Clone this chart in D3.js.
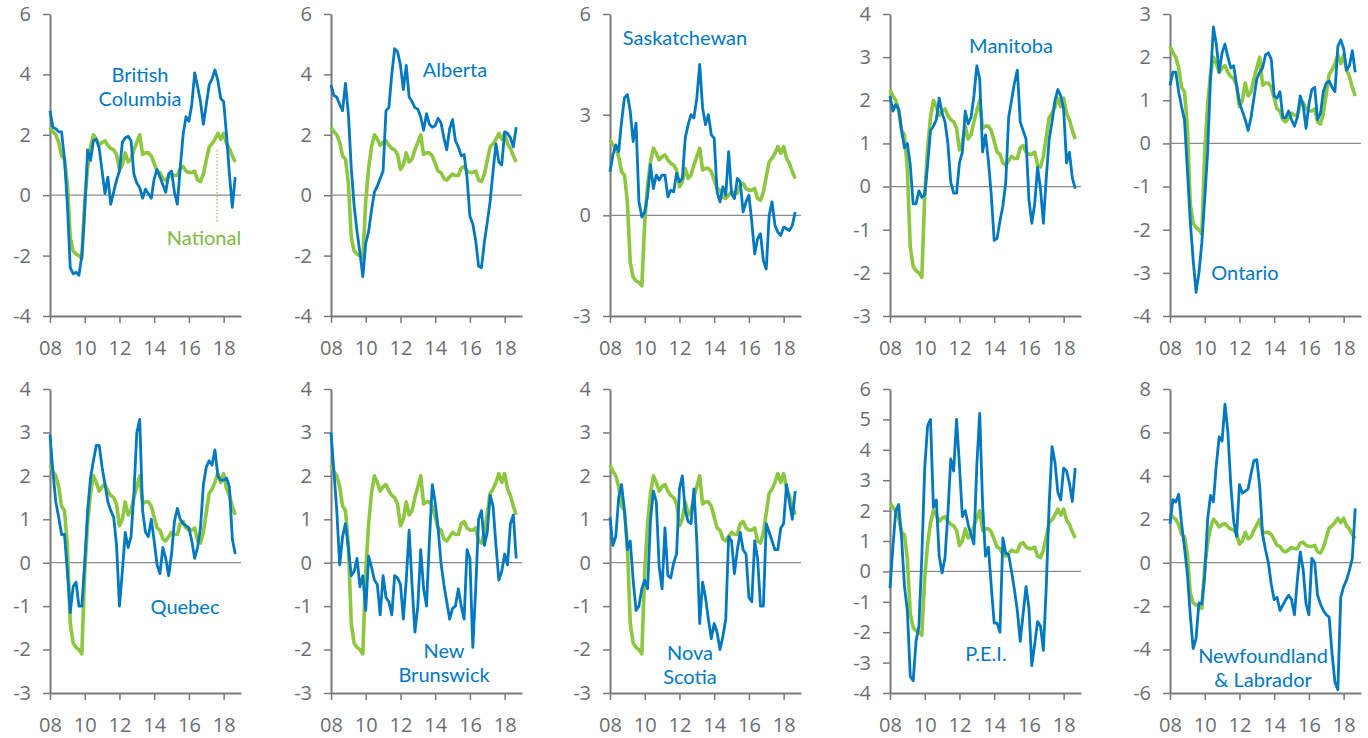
<!DOCTYPE html>
<html>
<head>
<meta charset="utf-8">
<script src="https://cdn.jsdelivr.net/npm/d3@7"></script>
<style>
  body { margin: 0; background: #fff; }
  text { font-family: "Open Sans", sans-serif; }
  .name { font-family: Lato, "Open Sans", sans-serif; }
</style>
</head>
<body>
<svg id="chart" width="1368" height="738"></svg>
<script>
// ---- data: employment growth, y/y %, read every two months, Jan 2008 .. Sep 2018 ----
var xTicks = [2008, 2010, 2012, 2014, 2016, 2018];
var xTickLabels = ["08", "10", "12", "14", "16", "18"];

// one entry every two months from Jan 2008
var months = d3.range(65).map(function(k) { return 2008 + k / 6; });

var national = [
  2.25, 2.1, 2.0, 1.75, 1.3, 1.2,
  0.4, -1.4, -1.85, -1.95, -2.0, -2.1,
  -0.2, 0.9, 1.6, 2.0, 1.85, 1.65,
  1.75, 1.8, 1.65, 1.55, 1.5, 1.35,
  0.85, 1.0, 1.4, 1.1, 1.2, 1.5,
  1.75, 2.0, 1.35, 1.4, 1.4, 1.3,
  1.05, 0.8, 0.75, 0.55, 0.5, 0.6,
  0.7, 0.65, 0.65, 0.9, 0.95, 0.8,
  0.75, 0.75, 0.8, 0.5, 0.45, 0.7,
  1.15, 1.6, 1.7, 1.85, 2.05, 1.85,
  2.05, 1.7, 1.55, 1.3, 1.1
];
var britishColumbia = [
  2.8, 2.25, 2.2, 2.1, 2.1, 1.2,
  -0.3, -2.4, -2.6, -2.55, -2.65, -2.0,
  -0.5, 1.5, 1.15, 1.8, 1.85, 1.55,
  0.8, 0.05, 0.6, -0.3, 0.1, 0.5,
  0.8, 1.75, 1.9, 1.95, 1.8, 0.7,
  0.4, 0.25, -0.1, 0.2, 0.05, -0.1,
  0.55, 0.85, 0.6, 0.35, 0.1, 0.7,
  0.8, 0.1, -0.3, 0.9, 2.0, 2.6,
  2.45, 3.0, 4.05, 3.6, 3.1, 2.35,
  3.0, 3.65, 3.85, 4.15, 3.8, 3.2,
  3.1, 2.0, 0.7, -0.4, 0.6
];
var alberta = [
  3.65, 3.3, 3.25, 3.0, 2.8, 3.7,
  2.7, 0.9, -0.35, -1.2, -1.9, -2.7,
  -1.6, -1.2, -0.5, 0.1, 0.3, 0.55,
  0.8, 2.8, 2.9, 4.0, 4.85, 4.75,
  4.3, 3.5, 4.3, 3.25, 3.1, 2.9,
  2.85, 2.6, 2.15, 2.7, 2.35, 2.25,
  2.3, 2.55, 2.4, 1.9, 1.5, 2.2,
  2.5, 1.8, 1.6, 1.3, 1.35, 0.6,
  -0.7, -0.95, -1.5, -2.35, -2.4, -1.55,
  -0.9, -0.2, 0.8, 1.7, 1.1, 1.0,
  2.1, 2.05, 1.9, 1.6, 2.25
];
var saskatchewan = [
  1.3, 1.8, 2.1, 1.9, 2.8, 3.5,
  3.6, 3.1, 2.2, 2.75, 0.4, -0.05,
  0.1, 0.6, 1.5, 0.8, 1.2, 1.05,
  1.2, 1.2, 0.55, 0.75, 0.7, 1.25,
  1.0, 1.1, 2.3, 2.7, 3.0, 2.9,
  3.5, 4.5, 3.2, 2.7, 3.0, 2.4,
  2.3, 0.7, 0.4, 0.85, 0.6, 1.9,
  0.65, 0.5, 1.1, 1.0, 0.1, 0.4,
  0.6, -0.2, -1.15, -0.7, -0.55, -1.35,
  -1.6, 0.0, 0.4, -0.3, -0.5, -0.6,
  -0.35, -0.4, -0.45, -0.3, 0.1
];
var manitoba = [
  2.1, 1.75, 1.9, 1.8, 1.3, 0.9,
  1.0, 0.5, -0.4, -0.4, -0.1, -0.25,
  -0.2, 0.5, 1.3, 1.4, 1.55, 2.05,
  1.7, 1.5, 1.0, 0.1, -0.15, -0.15,
  0.55, 0.8, 1.75, 1.45, 1.6, 2.1,
  2.8, 2.5, 0.8, 1.2, 0.6, -0.2,
  -1.25, -1.2, -0.8, -0.45, 0.1, 1.6,
  2.0, 2.4, 2.7, 1.5, 1.3, 1.1,
  -0.3, -0.85, -0.4, 0.45, -0.05, -0.85,
  0.2, 1.1, 1.5, 2.0, 2.25, 2.1,
  1.8, 0.55, 0.8, 0.2, -0.05
];
var ontario = [
  1.35, 1.65, 1.65, 1.2, 0.85, 0.55,
  -0.6, -1.8, -2.7, -3.45, -3.0, -2.3,
  -1.3, -0.2, 1.5, 2.7, 2.3, 1.65,
  2.1, 2.3, 2.0, 1.75, 1.8, 1.35,
  0.95, 0.75, 0.55, 0.3, 0.6, 1.05,
  1.5, 1.65, 1.75, 2.05, 2.1, 1.95,
  1.1, 1.05, 1.2, 0.6, 0.6, 0.75,
  0.55, 0.4, 0.6, 1.1, 0.9, 0.35,
  0.9, 1.25, 1.3, 0.55, 0.7, 1.2,
  1.4, 1.45, 1.3, 1.2, 2.25, 2.4,
  2.2, 1.7, 1.8, 2.15, 1.65
];
var quebec = [
  2.95, 2.1, 1.4, 1.05, 0.65, 0.65,
  -0.2, -1.15, -0.55, -0.45, -1.0, -1.0,
  0.0, 1.2, 1.95, 2.35, 2.7, 2.7,
  2.2, 1.8, 1.4, 1.2, 1.05, 0.4,
  -1.0, -0.2, 0.7, 0.35, 0.6, 1.6,
  3.0, 3.3, 1.2, 0.7, 0.6, 1.0,
  0.5, -0.05, -0.25, 0.35, 0.1, -0.3,
  0.2, 0.95, 1.25, 1.0, 0.9, 0.85,
  0.8, 0.5, 0.1, 0.35, 0.8, 1.8,
  2.2, 2.35, 2.25, 2.6, 2.0, 1.9,
  1.9, 1.95, 1.75, 0.55, 0.2
];
var newBrunswick = [
  3.0, 2.1, 1.2, -0.05, 0.6, 0.9,
  0.35, -0.3, -0.2, 0.1, -0.55, -0.3,
  -1.1, 0.15, -0.1, -0.4, -0.5, -1.2,
  -0.3, -0.8, -0.9, -1.2, -0.3, -0.35,
  -0.5, -1.3, -0.4, 0.75, -0.5, -1.6,
  -1.0, 0.3, -0.6, -1.0, 0.5, 1.8,
  1.4, 0.8, 0.0, -0.5, -0.9, -1.3,
  -1.05, -1.0, -0.6, -1.0, -1.3, 0.3,
  0.1, -1.95, -0.6, 1.0, 1.2, 0.4,
  0.7, 1.55, 1.3, 0.4, -0.4, -0.2,
  0.2, -0.05, 0.9, 1.1, 0.1
];
var novaScotia = [
  1.05, 0.4, 0.6, 1.5, 1.8, 1.2,
  0.3, 0.5, -0.4, -1.1, -1.0, -0.6,
  -0.4, -0.6, 1.0, 1.65, 1.4, -0.1,
  -0.6, 0.8, -0.3, -0.35, 0.0, 0.2,
  1.7, 2.0, 1.2, 0.95, 0.9, 1.7,
  0.5, -1.4, -0.45, -0.8, -1.3, -1.75,
  -1.4, -1.6, -2.0, -1.7, -1.3, 0.6,
  0.5, -0.25, 0.3, 0.7, 0.3, 0.2,
  -0.8, -0.9, 0.5, 0.1, -1.0, -1.0,
  0.9, 0.7, 0.5, 0.3, 0.3, 0.8,
  0.9, 1.8, 1.4, 1.0, 1.65
];
var pei = [
  -0.55, 0.8, 2.0, 2.2, 1.1, -0.5,
  -1.3, -3.45, -3.6, -2.3, -1.8, 0.5,
  3.4, 4.8, 5.0, 2.1, 2.35, 0.5,
  -0.05, 0.45, 1.9, 3.7, 3.3, 5.0,
  3.5, 1.8, 2.0, 1.55, 1.2, 0.9,
  3.5, 5.2, 2.2, 0.5, 0.8, -0.5,
  -1.7, -1.7, -2.0, 1.1, 0.6, 0.55,
  0.0, -0.6, -1.3, -2.3, -1.4, -0.5,
  -1.2, -3.1, -2.4, -1.65, -1.8, -2.6,
  -0.5, 2.2, 4.1, 3.6, 2.6, 2.35,
  3.4, 3.3, 2.9, 2.3, 3.4
];
var newfoundland = [
  1.8, 2.9, 2.8, 3.15, 1.8, 0.7,
  -0.5, -2.4, -3.95, -3.5, -1.85, -1.9,
  -0.6, 2.0, 3.1, 2.8, 4.5, 5.8,
  5.6, 7.3, 6.0, 3.6, 1.9, 1.2,
  3.6, 3.2, 3.3, 3.4, 4.1, 4.7,
  4.75, 3.5, 1.3, 0.6, 0.0, -1.0,
  -1.7, -1.6, -2.2, -1.95, -1.7, -1.5,
  -1.7, -2.4, -0.8, 0.5, -0.3, -1.9,
  -2.4, 0.2, 0.0, -1.5, -1.9, -2.2,
  -2.4, -2.5, -4.2, -5.5, -5.85, -1.6,
  -1.1, -0.8, -0.35, 0.2, 2.5
];

// ---- layout ----
var colX = [50, 331, 610, 890, 1170];
var rowY = [[14, 316], [389, 693]];
var plotW = 191;

var blue = "#0079c1", green = "#8dc63f", axisGrey = "#7a7a7a", textGrey = "#6d6e71";

var panels = [
  { values: britishColumbia, domain: [-4, 6], step: 2, col: 0, row: 0, label: ["British", "Columbia"], lx: 140, ly: 82 },
  { values: alberta,         domain: [-4, 6], step: 2, col: 1, row: 0, label: ["Alberta"], lx: 455, ly: 77 },
  { values: saskatchewan,    domain: [-3, 6], step: 3, col: 2, row: 0, label: ["Saskatchewan"], lx: 685, ly: 45 },
  { values: manitoba,        domain: [-3, 4], step: 1, col: 3, row: 0, label: ["Manitoba"], lx: 1011, ly: 53 },
  { values: ontario,         domain: [-4, 3], step: 1, col: 4, row: 0, label: ["Ontario"], lx: 1245, ly: 280 },
  { values: quebec,          domain: [-3, 4], step: 1, col: 0, row: 1, label: ["Quebec"], lx: 185, ly: 614 },
  { values: newBrunswick,    domain: [-3, 4], step: 1, col: 1, row: 1, label: ["New", "Brunswick"], lx: 444, ly: 658 },
  { values: novaScotia,      domain: [-3, 4], step: 1, col: 2, row: 1, label: ["Nova", "Scotia"], lx: 690, ly: 660 },
  { values: pei,             domain: [-4, 6], step: 1, col: 3, row: 1, label: ["P.E.I."], lx: 986, ly: 661 },
  { values: newfoundland,    domain: [-6, 8], step: 2, col: 4, row: 1, label: ["Newfoundland", "& Labrador"], lx: 1263, ly: 663 }
];

var svg = d3.select("#chart");

panels.forEach(function(p) {
  var g = svg.append("g").attr("transform", "translate(" + colX[p.col] + ",0)");
  var top = rowY[p.row][0], bottom = rowY[p.row][1];

  var x = d3.scaleLinear().domain([2008, 2019]).range([0, plotW]);
  var y = d3.scaleLinear().domain(p.domain).range([bottom, top]);

  var yAxis = g.append("g")
    .call(d3.axisLeft(y)
      .tickValues(d3.range(p.domain[0], p.domain[1] + 0.001, p.step))
      .tickFormat(function(d) { return String(d); })
      .tickSize(7).tickSizeOuter(0).tickPadding(12));

  var xAxis = g.append("g")
    .attr("transform", "translate(0," + bottom + ")")
    .call(d3.axisBottom(x)
      .tickValues(xTicks)
      .tickFormat(function(d, i) { return xTickLabels[i]; })
      .tickSize(7).tickSizeOuter(0).tickPadding(18));

  [yAxis, xAxis].forEach(function(a) {
    a.select(".domain").attr("stroke", axisGrey).attr("stroke-width", 2);
    a.selectAll(".tick line").attr("stroke", axisGrey).attr("stroke-width", 1.5);
    a.selectAll(".tick text").attr("fill", textGrey).style("font-size", "20px");
  });

  // zero line
  g.append("line")
    .attr("x1", x(2008)).attr("x2", x(2019))
    .attr("y1", y(0)).attr("y2", y(0))
    .attr("stroke", "#8c8c8c").attr("stroke-width", 1.2);

  var line = d3.line()
    .x(function(d, i) { return x(months[i]); })
    .y(function(d) { return y(d); });

  g.append("path").datum(national)
    .attr("d", line).attr("fill", "none")
    .attr("stroke", green).attr("stroke-width", 3.6)
    .attr("stroke-linejoin", "round");

  g.append("path").datum(p.values)
    .attr("d", line).attr("fill", "none")
    .attr("stroke", blue).attr("stroke-width", 2.8)
    .attr("stroke-linejoin", "round");

  // province name, one text per line
  p.label.forEach(function(txt, i) {
    svg.append("text")
      .attr("class", "name")
      .attr("x", p.lx).attr("y", p.ly + i * 24)
      .attr("text-anchor", "middle")
      .attr("fill", blue)
      .style("font-size", "20px")
      .text(txt);
  });
});

// "National" callout in the first panel
svg.append("line")
  .attr("x1", 217).attr("x2", 217).attr("y1", 150).attr("y2", 222)
  .attr("stroke", green).attr("stroke-width", 1.2)
  .attr("stroke-dasharray", "1.5,2");
svg.append("text")
  .attr("class", "name")
  .attr("x", 204).attr("y", 245)
  .attr("text-anchor", "middle")
  .attr("fill", "#7fb93f")
  .style("font-size", "20px")
  .text("National");
</script>
</body>
</html>
